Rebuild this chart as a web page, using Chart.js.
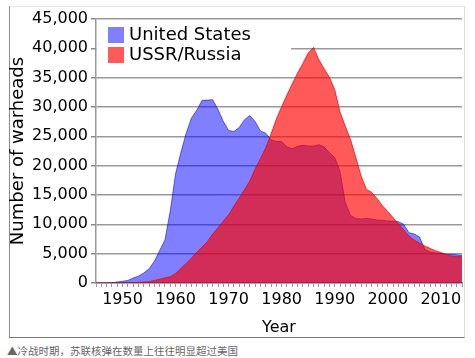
<!DOCTYPE html>
<html>
<head>
<meta charset="utf-8">
<script src="https://cdn.jsdelivr.net/npm/chart.js@4.4.0/dist/chart.umd.min.js"></script>
<style>
  body { margin: 0; background: #fff; width: 475px; height: 358px; overflow: hidden; position: relative; }
  #frame { position: absolute; left: 9px; top: 6px; width: 454px; height: 330px;
           border: 1px solid; border-color: #e6e6e6 #dcdcdc #7a7a7a #8c8c8c; }
  #wrap { position: absolute; left: 0; top: 0; width: 475px; height: 337px; }
  #cap { position: absolute; left: 7px; top: 343px; font-size: 10.5px; color: #666;
         font-family: "Noto Sans CJK SC", sans-serif; white-space: nowrap; }
</style>
</head>
<body>
<div id="frame"></div>
<div id="wrap"><canvas id="mycanvas" width="475" height="337"></canvas></div>
<div id="cap">▲冷战时期，苏联核弹在数量上往往明显超过美国</div>
<script>
var years = [1945, 1946, 1947, 1948, 1949, 1950, 1951, 1952, 1953, 1954,
             1955, 1956, 1957, 1958, 1959, 1960, 1961, 1962, 1963, 1964,
             1965, 1966, 1967, 1968, 1969, 1970, 1971, 1972, 1973, 1974,
             1975, 1976, 1977, 1978, 1979, 1980, 1981, 1982, 1983, 1984,
             1985, 1986, 1987, 1988, 1989, 1990, 1991, 1992, 1993, 1994,
             1995, 1996, 1997, 1998, 1999, 2000, 2001, 2002, 2003, 2004,
             2005, 2006, 2007, 2008, 2009, 2010, 2011, 2012, 2013, 2014];

var usWarheads = [2, 9, 13, 50, 170, 299, 438, 841, 1169, 1703,
                  2422, 3692, 5543, 7345, 12298, 18638, 22229, 25540, 28133, 29463,
                  31139, 31175, 31255, 29561, 27552, 26008, 25830, 26516, 27835, 28537,
                  27519, 25914, 25542, 24418, 24138, 24104, 23208, 22886, 23305, 23459,
                  23368, 23317, 23575, 23205, 22217, 21392, 19008, 13708, 11511, 10979,
                  10904, 11011, 10903, 10732, 10685, 10577, 10526, 10457, 10027, 8570,
                  8360, 7853, 5709, 5273, 5113, 5066, 4897, 4881, 4804, 4717];

var russiaWarheads = [0, 0, 0, 0, 1, 5, 25, 50, 120, 150,
                      200, 426, 660, 869, 1060, 1605, 2471, 3322, 4238, 5221,
                      6129, 7089, 8339, 9399, 10538, 11643, 13092, 14478, 15915, 17385,
                      19443, 21205, 23044, 25393, 27935, 30062, 32049, 33952, 35804, 37431,
                      39197, 40159, 38107, 36538, 35078, 32980, 29154, 26734, 24403, 21339,
                      18179, 15942, 15442, 14368, 13188, 12188, 11152, 10114, 9076, 8000,
                      7300, 6800, 6300, 5900, 5500, 5200, 4900, 4600, 4500, 4500];

var seriesNames = ['United States', 'USSR/Russia'];
var decadeLabels = [1950, 1960, 1970, 1980, 1990, 2000, 2010];

function toPoints(vals) {
    var pts = [];
    for (var i in vals) {
        pts.push({ x: years[i], y: vals[i] });
    }
    return pts;
}

// legend sits inside the plot with a white box behind it
var legendBox = {
    id: 'legendBox',
    afterDatasetsDraw: function(chart) {
        var ctx = chart.ctx;
        var a = chart.chartArea;
        ctx.save();
        ctx.fillStyle = '#fff';
        ctx.fillRect(a.left + 1, a.top + 1, 194, 46);
        ctx.font = '18px "DejaVu Sans"';
        ctx.textBaseline = 'middle';
        chart.data.datasets.forEach(function(ds, row) {
            var y = a.top + 16 + row * 20;
            ctx.fillStyle = ds.backgroundColor;
            ctx.fillRect(a.left + 12, y - 8, 16, 16);
            ctx.fillStyle = '#000';
            ctx.fillText(ds.label, a.left + 33, y);
        });
        ctx.restore();
    }
};

Chart.defaults.font.family = '"DejaVu Sans"';
Chart.defaults.color = '#000';

var chartdata = {
    datasets: [{
        label: seriesNames[0],
        data: toPoints(usWarheads),
        backgroundColor: 'rgba(0, 0, 255, 0.5)',
        borderColor: 'rgba(0, 0, 200, 0.55)',
        borderWidth: 1,
        pointRadius: 0,
        fill: 'origin',
        order: 1
    }, {
        label: seriesNames[1],
        data: toPoints(russiaWarheads),
        backgroundColor: 'rgba(255, 0, 0, 0.65)',
        borderColor: 'rgba(230, 0, 0, 0.7)',
        borderWidth: 1,
        pointRadius: 0,
        fill: 'origin',
        order: 0
    }]
};

var ctx = document.getElementById('mycanvas');

var areaChart = new Chart(ctx, {
    type: 'line',
    data: chartdata,
    plugins: [legendBox],
    options: {
        responsive: false,
        animation: false,
        layout: { padding: { left: 8, top: 19, right: 13, bottom: 0 } },
        plugins: {
            legend: { display: false },
            tooltip: { enabled: false }
        },
        elements: { line: { tension: 0 } },
        scales: {
            x: {
                type: 'linear',
                min: 1945,
                max: 2014,
                afterFit: function(scale) { scale.height = 54; },
                grid: { drawOnChartArea: false, tickLength: 4, tickColor: '#999' },
                border: { color: '#888', width: 1.5 },
                ticks: {
                    stepSize: 1,
                    maxTicksLimit: 100,
                    autoSkip: false,
                    maxRotation: 0,
                    minRotation: 0,
                    padding: 3,
                    font: { size: 16 },
                    callback: function(v) {
                        return decadeLabels.indexOf(v) >= 0 ? String(v) : '';
                    }
                },
                title: {
                    display: true,
                    text: 'Year',
                    font: { size: 16 },
                    padding: { top: 4, bottom: 0 }
                }
            },
            y: {
                min: 0,
                max: 45000,
                afterFit: function(scale) { scale.width = 88; },
                grid: { color: '#999', lineWidth: 1.5, tickLength: 5, tickColor: '#888' },
                border: { color: '#999', width: 1.5 },
                ticks: { stepSize: 5000, padding: 3, font: { size: 16 } },
                title: {
                    display: true,
                    text: 'Number of warheads',
                    font: { size: 18 },
                    padding: 0
                }
            }
        }
    }
});
</script>
</body>
</html>
